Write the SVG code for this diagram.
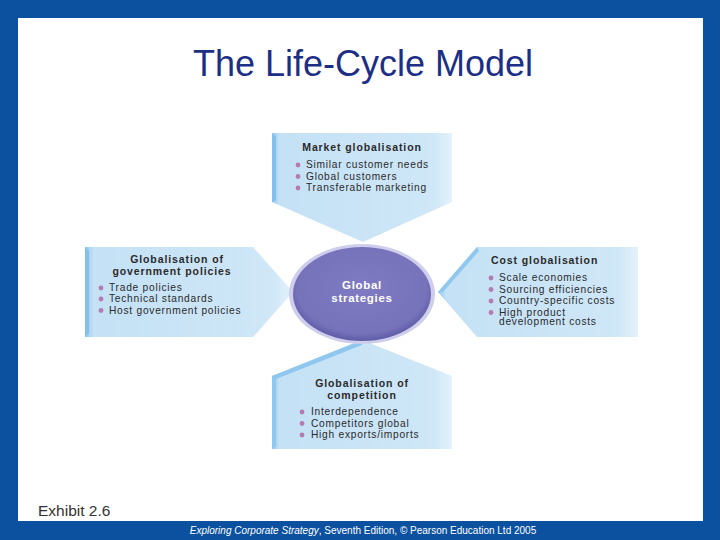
<svg xmlns="http://www.w3.org/2000/svg" width="720" height="540" viewBox="0 0 720 540">
<defs>
<linearGradient id="gH" x1="0" y1="0" x2="1" y2="0">
<stop offset="0" stop-color="#8ec6ee"/>
<stop offset="0.04" stop-color="#c4e1f5"/>
<stop offset="0.9" stop-color="#cfe7f7"/>
<stop offset="1" stop-color="#e4f2fb"/>
</linearGradient>
<radialGradient id="gE" cx="0.5" cy="0.45" r="0.55">
<stop offset="0" stop-color="#7e7bc2"/>
<stop offset="0.85" stop-color="#7673bb"/>
<stop offset="1" stop-color="#5f5ca8"/>
</radialGradient>
<style>
.hd{font-family:"Liberation Sans",Arial,sans-serif;font-weight:bold;font-size:10.5px;letter-spacing:0.9px;fill:#2a2a2a}
.bl{font-family:"Liberation Sans",Arial,sans-serif;font-size:10.2px;letter-spacing:0.75px;fill:#2a2a2a}
.ct{font-family:"Liberation Sans",Arial,sans-serif;font-weight:bold;font-size:11.5px;letter-spacing:0.7px;fill:#ffffff}
.dot{fill:#b57ab0}
.shape{fill:url(#gH)}
</style>
</defs>
<rect x="0" y="0" width="720" height="540" fill="#0c51a0"/>
<rect x="18" y="18" width="685" height="503" fill="#ffffff"/>
<text x="363" y="76" text-anchor="middle" font-family="'Liberation Sans',Arial,sans-serif" font-size="36" fill="#1d2f85">The Life-Cycle Model</text>

<g id="connectors"></g>

<g id="market">
<polygon class="shape" points="272,133 452,133 452,202 363,242 272,202"/>
<polygon points="272,133 276,137 276,200 272,202" fill="#84c0ea"/>
<text class="hd" x="362" y="151" text-anchor="middle">Market globalisation</text>
<circle class="dot" cx="298" cy="165" r="2.4"/><text class="bl" x="306" y="168">Similar customer needs</text>
<circle class="dot" cx="298" cy="176.5" r="2.4"/><text class="bl" x="306" y="179.5">Global customers</text>
<circle class="dot" cx="298" cy="188" r="2.4"/><text class="bl" x="306" y="191">Transferable marketing</text>
</g>

<g id="government">
<polygon class="shape" points="85,247 253,247 293,292 253,337 85,337"/>
<polygon points="85,247 89,251 89,333 85,337" fill="#84c0ea"/>
<text class="hd" x="177" y="263" text-anchor="middle">Globalisation of</text>
<text class="hd" x="172" y="274.5" text-anchor="middle">government policies</text>
<circle class="dot" cx="101" cy="288" r="2.4"/><text class="bl" x="109" y="291">Trade policies</text>
<circle class="dot" cx="101" cy="299" r="2.4"/><text class="bl" x="109" y="302">Technical standards</text>
<circle class="dot" cx="101" cy="310.5" r="2.4"/><text class="bl" x="109" y="313.5">Host government policies</text>
</g>

<g id="cost">
<polygon class="shape" points="438,292 477,247 638,247 638,337 477,337"/>
<polygon points="438,292 477,247 479,251 443,292" fill="#8fc7ee"/>
<text class="hd" x="491" y="264">Cost globalisation</text>
<circle class="dot" cx="491" cy="278" r="2.4"/><text class="bl" x="499" y="281">Scale economies</text>
<circle class="dot" cx="491" cy="289.5" r="2.4"/><text class="bl" x="499" y="292.5">Sourcing efficiencies</text>
<circle class="dot" cx="491" cy="301" r="2.4"/><text class="bl" x="499" y="304">Country-specific costs</text>
<circle class="dot" cx="491" cy="312.5" r="2.4"/><text class="bl" x="499" y="315.5">High product</text>
<text class="bl" x="499" y="325">development costs</text>
</g>

<g id="competition">
<polygon class="shape" points="362,340 452,376 452,449 272,449 272,376"/>
<polygon points="362,340 272,376 272,449 276,446 276,379 362,345" fill="#8fc7ee"/>
<text class="hd" x="362" y="387" text-anchor="middle">Globalisation of</text>
<text class="hd" x="362" y="398.5" text-anchor="middle">competition</text>
<circle class="dot" cx="302" cy="412" r="2.4"/><text class="bl" x="311" y="415">Interdependence</text>
<circle class="dot" cx="302" cy="423.5" r="2.4"/><text class="bl" x="311" y="426.5">Competitors global</text>
<circle class="dot" cx="302" cy="435" r="2.4"/><text class="bl" x="311" y="438">High exports/imports</text>
</g>

<g id="global">
<ellipse cx="362" cy="294" rx="73" ry="50" fill="#cfcdec"/>
<ellipse cx="362" cy="294" rx="69" ry="47" fill="url(#gE)"/>
<text class="ct" x="362" y="289" text-anchor="middle">Global</text>
<text class="ct" x="362" y="302" text-anchor="middle">strategies</text>
</g>

<text x="38" y="516" font-family="'Liberation Sans',Arial,sans-serif" font-size="15.5" fill="#333333">Exhibit 2.6</text>
<text x="363" y="534" text-anchor="middle" font-family="'Liberation Sans',Arial,sans-serif" font-size="10" fill="#ffffff"><tspan font-style="italic">Exploring Corporate Strategy</tspan>, Seventh Edition, © Pearson Education Ltd 2005</text>
</svg>
